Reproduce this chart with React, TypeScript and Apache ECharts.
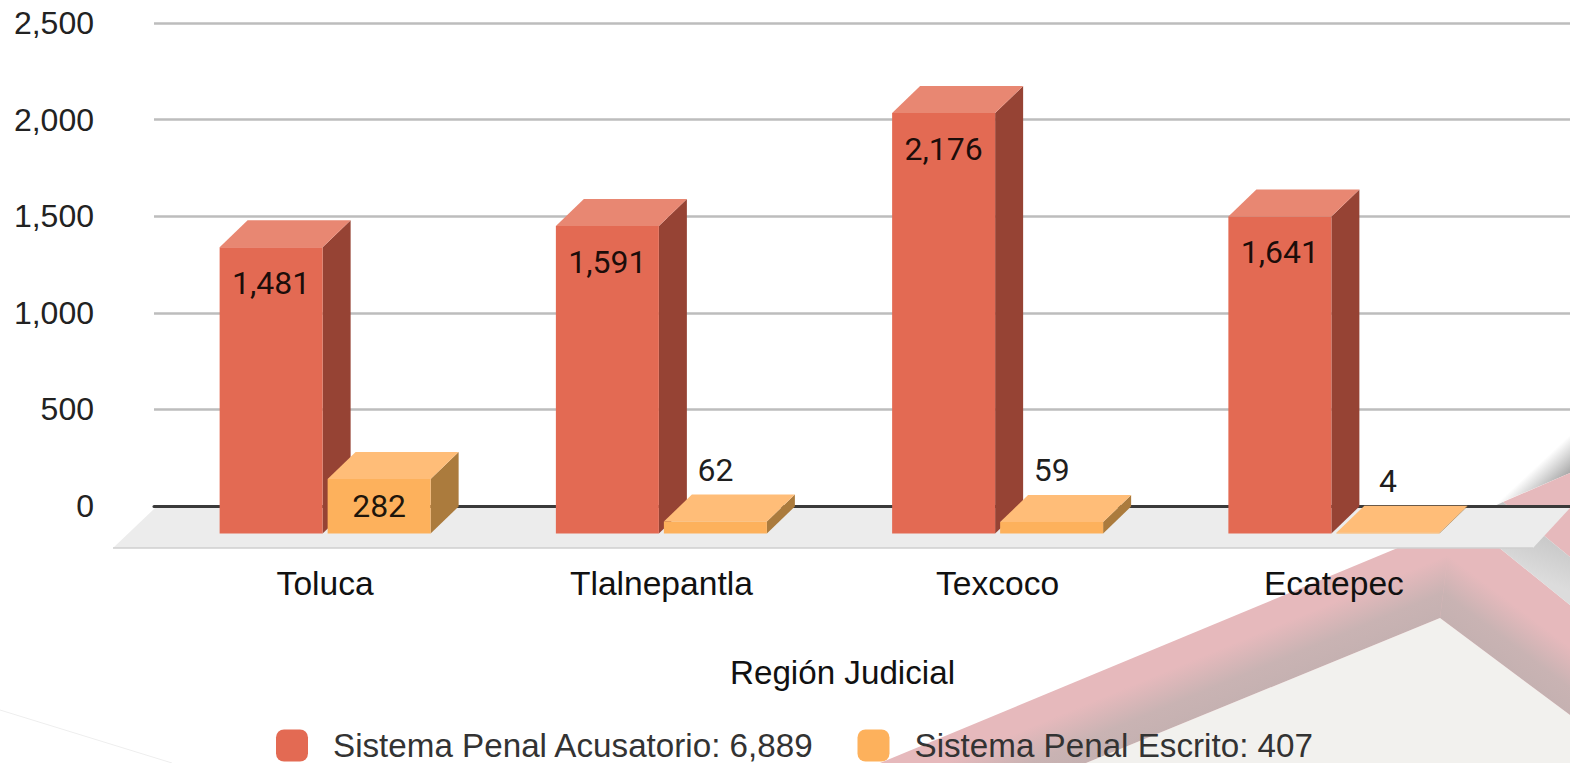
import React, { useEffect, useRef } from "react";
import * as echarts from "echarts";

const categories = ["Toluca", "Tlalnepantla", "Texcoco", "Ecatepec"];
const acusatorio = [1481, 1591, 2176, 1641];
const escrito = [282, 62, 59, 4];
const yTicks = { min: 0, max: 2500, interval: 500 };
const acusatorioName = "Sistema Penal Acusatorio: 6,889";
const escritoName = "Sistema Penal Escrito: 407";
const axisTitle = "Región Judicial";

const BAR_W = 103;
const GAP = 5;
const DX = 28;
const DY = 26;

function box3d(side: -1 | 1, colors: { front: string; top: string; side: string }) {
  return (params: any, api: any) => {
    const idx = api.value(0);
    const val = api.value(1);
    const [cx, yBack] = api.coord([idx, val]);
    const [, y0] = api.coord([idx, 0]);
    const x0 = side < 0 ? cx - GAP / 2 - BAR_W : cx + GAP / 2;
    const x1 = x0 + BAR_W;
    const top = yBack + DY;
    const bottom = y0 + DY;
    const h = bottom - top;
    const mid = (x0 + x1) / 2;
    let labelY = top - 52;
    let halo = true;
    if (h > 72) {
      labelY = top + 36;
      halo = false;
    } else if (h >= 40) {
      labelY = top + h / 2;
      halo = false;
    }
    const txt = Number(val).toLocaleString("en-US");
    return {
      type: "group",
      children: [
        { type: "polygon", shape: { points: [[x1, top], [x1 + DX, top - DY - 1], [x1 + DX, bottom - DY - 1], [x1, bottom]] }, style: { fill: colors.side } },
        { type: "polygon", shape: { points: [[x0, top], [x0 + DX, top - DY - 1], [x1 + DX, top - DY - 1], [x1, top]] }, style: { fill: colors.top } },
        { type: "rect", shape: { x: x0, y: top, width: BAR_W, height: h }, style: { fill: colors.front } },
        {
          type: "text",
          z2: 10,
          style: {
            text: txt,
            x: mid,
            y: labelY,
            align: "center",
            verticalAlign: "middle",
            fill: "rgba(0,0,0,0.88)",
            font: "32px Roboto",
            stroke: halo ? "#fff" : undefined,
            lineWidth: halo ? 4 : 0,
          },
        },
      ],
    };
  };
}

const bandStops = [
  { offset: 0, color: "#C5B1B1" },
  { offset: 0.4, color: "#C9B3B3" },
  { offset: 1, color: "#E6B9BC" },
];

export default function App() {
  const ref = useRef<HTMLDivElement>(null);
  useEffect(() => {
    document.body.style.margin = "0";
    document.body.style.overflow = "hidden";
    const chart = echarts.init(ref.current!, undefined, { renderer: "svg" });
    chart.setOption({
      animation: false,
      backgroundColor: "#fff",
      grid: [
        { left: 157, width: 1345, top: 24.5, height: 483 },
        { left: 154, width: 1416, top: 23, height: 483 },
      ],
      xAxis: [
        {
          type: "category",
          gridIndex: 0,
          data: categories,
          axisLine: { show: false },
          axisTick: { show: false },
          axisLabel: { margin: 58.5, fontSize: 33.6, color: "#111", fontFamily: "Liberation Sans" },
          name: axisTitle,
          nameLocation: "middle",
          nameGap: 148,
          nameTextStyle: { fontSize: 33.2, color: "#111", fontFamily: "Liberation Sans", padding: [0, 0, 0, 26] },
        },
        {
          type: "value",
          gridIndex: 1,
          min: 0,
          max: 1,
          axisLabel: { show: false },
          axisTick: { show: false },
          splitLine: { show: false },
          axisLine: { show: true, lineStyle: { color: "#3a3a3a", width: 3 } },
        },
      ],
      yAxis: [
        { type: "value", gridIndex: 0, show: false, ...yTicks },
        {
          type: "value",
          gridIndex: 1,
          ...yTicks,
          axisLine: { show: false },
          axisTick: { show: false },
          axisLabel: { margin: 60, fontSize: 32, color: "#222", fontFamily: "Liberation Sans" },
          splitLine: { lineStyle: { color: "#bdbdbd", width: 2.5 } },
        },
      ],
      legend: {
        left: 271,
        top: 724,
        itemWidth: 32,
        itemHeight: 32,
        itemGap: 43,
        icon: "roundRect",
        data: [acusatorioName, escritoName],
        textStyle: { fontSize: 33.2, color: "#333", fontFamily: "Liberation Sans", padding: [0, 0, 0, 20] },
      },
      graphic: {
        elements: [
          { type: "line", z: -20, shape: { x1: 0, y1: 710, x2: 172, y2: 763 }, style: { stroke: "#eeeeee", lineWidth: 1 } },
          {
            type: "polygon", z: -20,
            shape: { points: [[1495, 505], [1570, 473], [1570, 435]] },
            style: {
              fill: new echarts.graphic.LinearGradient(1570, 473, 1551, 452.7, [
                { offset: 0, color: "#A8A8A8" },
                { offset: 1, color: "#FFFFFF" },
              ], true),
            },
          },
          {
            type: "polygon", z: -19,
            shape: { points: [[1503, 502], [1570, 473], [1570, 557]] },
            style: { fill: "#E6B9BC" },
          },
          {
            type: "polygon", z: -18,
            shape: { points: [[880, 763], [1465, 520], [1570, 605], [1570, 763]] },
            style: { fill: "#E6B9BC" },
          },
          {
            type: "polygon", z: -17,
            shape: { points: [[1465, 520], [1503, 502], [1570, 557], [1570, 605]] },
            style: {
              fill: new echarts.graphic.LinearGradient(0.6, 0, 0.35, 0.6, [
                { offset: 0, color: "#BDBDBD" },
                { offset: 1, color: "#DCDCDC" },
              ]),
            },
          },
          {
            type: "polygon", z: -16,
            shape: { points: [[1086, 763], [1440, 618], [1448, 555], [941, 763]] },
            style: { fill: new echarts.graphic.LinearGradient(1440, 618, 1419, 567, bandStops, true) },
          },
          {
            type: "polygon", z: -16,
            shape: { points: [[1440, 618], [1570, 715], [1570, 646], [1448, 555]] },
            style: { fill: new echarts.graphic.LinearGradient(1440, 618, 1473, 574, bandStops, true) },
          },
          {
            type: "polygon", z: -15,
            shape: { points: [[1086, 763], [1440, 618], [1570, 715], [1570, 763]] },
            style: { fill: "#F2F1EE" },
          },
          {
            type: "polygon", z: 1,
            shape: { points: [[155, 508], [1570, 508], [1533, 548], [113, 548]] },
            style: { fill: "#ECECEC" },
          },
          { type: "line", z: 1, shape: { x1: 113, y1: 548, x2: 1533, y2: 548 }, style: { stroke: "#cfcfcf", lineWidth: 1.5 } },
        ],
      },
      series: [
        {
          type: "custom",
          name: acusatorioName,
          xAxisIndex: 0,
          yAxisIndex: 0,
          z: 3,
          itemStyle: { color: "#E36A53" },
          encode: { x: 0, y: 1 },
          data: acusatorio.map((v, i) => [i, v]),
          renderItem: box3d(-1, { front: "#E36A53", top: "#E88772", side: "#964334" }),
        },
        {
          type: "custom",
          name: escritoName,
          xAxisIndex: 0,
          yAxisIndex: 0,
          z: 4,
          itemStyle: { color: "#FDB15C" },
          encode: { x: 0, y: 1 },
          data: escrito.map((v, i) => [i, v]),
          renderItem: box3d(1, { front: "#FDB15C", top: "#FFBD78", side: "#AB7B3D" }),
        },
      ],
    });
    return () => chart.dispose();
  }, []);
  return <div ref={ref} style={{ position: "absolute", left: 0, top: 0, width: 1570, height: 763 }} />;
}
